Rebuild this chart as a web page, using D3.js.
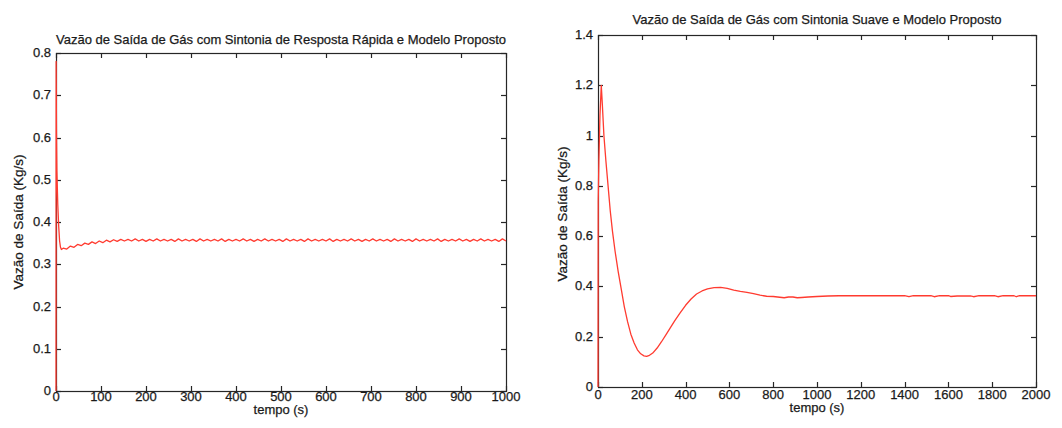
<!DOCTYPE html>
<html>
<head>
<meta charset="utf-8">
<script src="https://cdn.jsdelivr.net/npm/d3@7/dist/d3.min.js"></script>
<style>
  html, body { margin: 0; padding: 0; background: #ffffff; }
  svg { display: block; }
  text { font-family: "Liberation Sans", Arial, Helvetica, sans-serif; fill: #1a1a1a; stroke: #1a1a1a; stroke-width: 0.25px; }
</style>
</head>
<body>
<svg id="chart" width="1062" height="428"></svg>
<script>
// ---- Fast-response tuning (left panel) ----
const leftTitle = "Vazão de Saída de Gás com Sintonia de Resposta Rápida e Modelo Proposto";
const leftXTicks = [0, 100, 200, 300, 400, 500, 600, 700, 800, 900, 1000];
const leftYTicks = [0, 0.1, 0.2, 0.3, 0.4, 0.5, 0.6, 0.7, 0.8];
// initial transient: time (s) and flow (kg/s)
const leftStartTime = [0, 0.3, 1, 2, 4, 6, 8, 10, 12];
const leftStartFlow = [0, 0.78, 0.62, 0.52, 0.44, 0.39, 0.355, 0.34, 0.335];
// sampled response from t = 16 s, one sample every 8 s
const leftSampleStart = 16;
const leftSampleStep = 8;
const leftSampledFlow = [
  0.338, 0.336, 0.343, 0.340, 0.347, 0.344, 0.350, 0.347, 0.353, 0.349,
  0.355, 0.351, 0.357, 0.353, 0.358, 0.354, 0.359, 0.355,
  0.359, 0.355, 0.360, 0.355, 0.359, 0.354, 0.359, 0.355, 0.360, 0.355,
  0.359, 0.355, 0.359, 0.354, 0.360, 0.355, 0.359, 0.355, 0.359, 0.354,
  0.360, 0.355, 0.359, 0.355, 0.359, 0.355, 0.360, 0.354, 0.359, 0.355,
  0.359, 0.355, 0.360, 0.355, 0.359, 0.354, 0.359, 0.355, 0.360, 0.355,
  0.359, 0.355, 0.359, 0.354, 0.360, 0.355, 0.359, 0.355, 0.359, 0.354,
  0.360, 0.355, 0.359, 0.355, 0.359, 0.355, 0.360, 0.354, 0.359, 0.355,
  0.359, 0.355, 0.360, 0.355, 0.359, 0.354, 0.359, 0.355, 0.360, 0.355,
  0.359, 0.355, 0.359, 0.354, 0.360, 0.355, 0.359, 0.355, 0.359, 0.354,
  0.360, 0.355, 0.359, 0.355, 0.359, 0.355, 0.360, 0.354, 0.359, 0.355,
  0.359, 0.355, 0.360, 0.355, 0.359, 0.354, 0.359, 0.355, 0.360, 0.355,
  0.359, 0.355, 0.359, 0.354, 0.360, 0.355
];

// ---- Smooth tuning (right panel) ----
const rightTitle = "Vazão de Saída de Gás com Sintonia Suave e Modelo Proposto";
const rightXTicks = [0, 200, 400, 600, 800, 1000, 1200, 1400, 1600, 1800, 2000];
const rightYTicks = [0, 0.2, 0.4, 0.6, 0.8, 1, 1.2, 1.4];
const rightTime = [
  0, 1, 4, 9, 15, 20, 27, 36, 46, 56, 66, 78, 92, 106, 120, 135, 150, 165, 180, 195,
  210, 222, 235, 250, 270, 290, 310, 330, 350, 375, 400, 425, 450, 475, 500, 530, 560, 590, 620, 650,
  680, 710, 740, 770, 800, 830, 850, 870, 890, 910, 930, 960, 1000, 1050, 1100, 1200, 1300, 1400, 1420, 1440,
  1520, 1535, 1560, 1600, 1610, 1640, 1700, 1715, 1740, 1810, 1826, 1850, 1900, 1910, 1925, 2000
];
const rightFlow = [
  0, 0.74, 0.9, 1.08, 1.2, 1.12, 1.0, 0.9, 0.8, 0.7, 0.62, 0.54, 0.46, 0.39, 0.32, 0.26, 0.21, 0.175, 0.148, 0.132,
  0.124, 0.122, 0.126, 0.135, 0.155, 0.18, 0.207, 0.235, 0.263, 0.295, 0.325, 0.35, 0.37, 0.382, 0.39, 0.395, 0.396, 0.392, 0.385, 0.38,
  0.376, 0.371, 0.365, 0.361, 0.36, 0.357, 0.355, 0.358, 0.358, 0.355, 0.356, 0.358, 0.36, 0.362, 0.363, 0.363, 0.363, 0.363, 0.359, 0.363,
  0.363, 0.359, 0.363, 0.363, 0.36, 0.362, 0.362, 0.359, 0.363, 0.363, 0.359, 0.363, 0.363, 0.359, 0.363, 0.363
];

const yLabel = "Vazão de Saída (Kg/s)";
const xLabel = "tempo (s)";

const leftSeries = leftStartTime.map((t, i) => [t, leftStartFlow[i]])
  .concat(leftSampledFlow.map((v, i) => [leftSampleStart + i * leftSampleStep, v]));
const rightSeries = rightTime.map((t, i) => [t, rightFlow[i]]);

const svg = d3.select("#chart");
const AXIS = "#262626";
const LINE = "#ff3b30";
const TICK = 5;
const FONT = 13;

function panel(opt) {
  const x = d3.scaleLinear().domain(opt.xDomain).range([opt.left, opt.right]);
  const y = d3.scaleLinear().domain(opt.yDomain).range([opt.bottom, opt.top]);
  const g = svg.append("g");

  g.append("rect")
    .attr("x", opt.left + 0.5).attr("y", opt.top + 0.5)
    .attr("width", opt.right - opt.left).attr("height", opt.bottom - opt.top)
    .attr("fill", "#ffffff").attr("stroke", AXIS).attr("stroke-width", 1.2);

  // inward ticks on all four sides
  const tk = g.append("g").attr("stroke", AXIS).attr("stroke-width", 1.2);
  opt.xTicks.forEach(t => {
    const px = Math.round(x(t)) + 0.5;
    tk.append("line").attr("x1", px).attr("x2", px).attr("y1", opt.bottom).attr("y2", opt.bottom - TICK);
    tk.append("line").attr("x1", px).attr("x2", px).attr("y1", opt.top).attr("y2", opt.top + TICK);
  });
  opt.yTicks.forEach(t => {
    const py = Math.round(y(t)) + 0.5;
    tk.append("line").attr("x1", opt.left).attr("x2", opt.left + TICK).attr("y1", py).attr("y2", py);
    tk.append("line").attr("x1", opt.right).attr("x2", opt.right - TICK).attr("y1", py).attr("y2", py);
  });

  const fmt = d3.format("~g");
  g.append("g").selectAll("text").data(opt.xTicks).join("text")
    .attr("x", d => x(d)).attr("y", opt.xTickY)
    .attr("text-anchor", "middle").attr("font-size", FONT)
    .text(d => fmt(d));
  g.append("g").selectAll("text").data(opt.yTicks).join("text")
    .attr("x", opt.left - 5).attr("y", d => y(d) + 4)
    .attr("text-anchor", "end").attr("font-size", FONT)
    .text(d => fmt(d));

  g.append("text")
    .attr("x", (opt.left + opt.right) / 2).attr("y", opt.titleY)
    .attr("text-anchor", "middle").attr("font-size", FONT)
    .text(opt.title);
  g.append("text")
    .attr("x", (opt.left + opt.right) / 2).attr("y", opt.xLabelY)
    .attr("text-anchor", "middle").attr("font-size", FONT)
    .text(xLabel);
  g.append("text")
    .attr("transform", `translate(${opt.yLabelX},${opt.yLabelMid}) rotate(-90)`)
    .attr("text-anchor", "middle").attr("font-size", FONT + 0.5)
    .text(yLabel);

  const line = d3.line().x(d => x(d[0])).y(d => y(d[1]));
  g.append("path")
    .datum(opt.data)
    .attr("d", line)
    .attr("fill", "none")
    .attr("stroke", LINE)
    .attr("stroke-width", 1.3)
    .attr("stroke-linejoin", "round");
}

panel({
  left: 56, right: 506, top: 53, bottom: 391,
  xDomain: [0, 1000], yDomain: [0, 0.8],
  xTicks: leftXTicks, yTicks: leftYTicks,
  title: leftTitle, titleY: 44, xTickY: 401, xLabelY: 414,
  yLabelX: 23, yLabelMid: 222,
  data: leftSeries
});

panel({
  left: 598, right: 1036, top: 35, bottom: 387,
  xDomain: [0, 2000], yDomain: [0, 1.4],
  xTicks: rightXTicks, yTicks: rightYTicks,
  title: rightTitle, titleY: 24, xTickY: 399, xLabelY: 412,
  yLabelX: 567, yLabelMid: 214,
  data: rightSeries
});
</script>
</body>
</html>
